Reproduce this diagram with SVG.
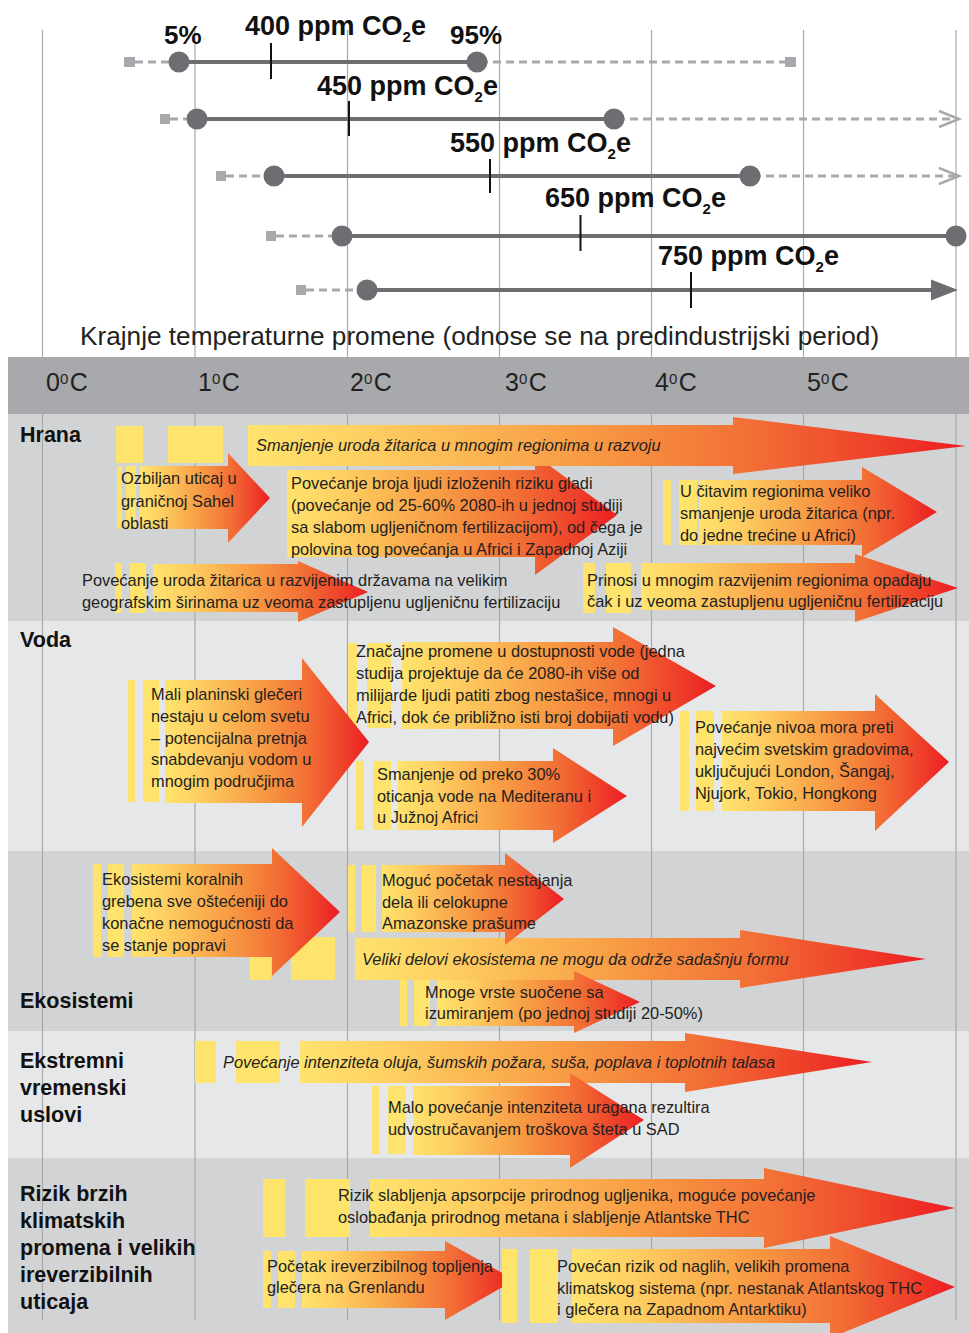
<svg xmlns="http://www.w3.org/2000/svg" width="969" height="1333" viewBox="0 0 969 1333">
<defs>
<linearGradient id="g" x1="0" y1="0" x2="1" y2="0">
<stop offset="0" stop-color="#ffe36d"/>
<stop offset="0.15" stop-color="#fed163"/>
<stop offset="0.45" stop-color="#f89e45"/>
<stop offset="0.7" stop-color="#f26f35"/>
<stop offset="0.9" stop-color="#ee3a28"/>
<stop offset="1" stop-color="#ec1c24"/>
</linearGradient>
</defs>
<style>
text{font-family:"Liberation Sans",Arial,sans-serif}
.t{font-size:16.4px;fill:#231f20}
.it{font-style:italic}
.lab{font-weight:bold;font-size:21.5px;fill:#111}
.bar{fill:#fee36d}
.arr{fill:url(#g)}
.grid{stroke:#a7a9ac;stroke-width:1.2}
.ppm{font-weight:bold;font-size:27px;fill:#111}
.pct{font-weight:bold;font-size:26px;fill:#111}
.deg{font-size:25px;fill:#231f20}
.sol{stroke:#6d6e71;stroke-width:4}
.dash{stroke:#a7a9ac;stroke-width:3;stroke-dasharray:8 5;fill:none}
.dot{fill:#6d6e71}
.sq{fill:#a7a9ac}
.tick{stroke:#111;stroke-width:2}
</style>
<rect width="969" height="1333" fill="#fff"/>
<g id="sections">
<rect x="8" y="414" width="961" height="207" fill="#d1d3d4"/>
<rect x="8" y="621" width="961" height="230" fill="#e6e7e8"/>
<rect x="8" y="851" width="961" height="180" fill="#d1d3d4"/>
<rect x="8" y="1031" width="961" height="127" fill="#e6e7e8"/>
<rect x="8" y="1158" width="961" height="175" fill="#d1d3d4"/>
</g>
<g id="grid">
<line class="grid" x1="42.5" y1="30" x2="42.5" y2="1320"/>
<line class="grid" x1="195" y1="30" x2="195" y2="1320"/>
<line class="grid" x1="347.5" y1="30" x2="347.5" y2="1320"/>
<line class="grid" x1="499.5" y1="30" x2="499.5" y2="1320"/>
<line class="grid" x1="651.5" y1="30" x2="651.5" y2="1320"/>
<line class="grid" x1="803.5" y1="30" x2="803.5" y2="1320"/>
<line class="grid" x1="956" y1="30" x2="956" y2="1320"/>
</g>
<g id="scale">
<rect x="8" y="357" width="961" height="57" fill="#a7a9ac"/>
<text class="deg" x="46" y="391">0<tspan font-size="15" dy="-7">0</tspan><tspan dx="1.5" dy="7">C</tspan></text>
<text class="deg" x="198" y="391">1<tspan font-size="15" dy="-7">0</tspan><tspan dx="1.5" dy="7">C</tspan></text>
<text class="deg" x="350" y="391">2<tspan font-size="15" dy="-7">0</tspan><tspan dx="1.5" dy="7">C</tspan></text>
<text class="deg" x="505" y="391">3<tspan font-size="15" dy="-7">0</tspan><tspan dx="1.5" dy="7">C</tspan></text>
<text class="deg" x="655" y="391">4<tspan font-size="15" dy="-7">0</tspan><tspan dx="1.5" dy="7">C</tspan></text>
<text class="deg" x="807" y="391">5<tspan font-size="15" dy="-7">0</tspan><tspan dx="1.5" dy="7">C</tspan></text>
<text x="80" y="345" font-size="26.2" fill="#231f20">Krajnje temperaturne promene (odnose se na predindustrijski period)</text>
</g>
<g id="ranges">
<g id="r400">
<rect class="sq" x="124" y="57" width="11" height="10"/>
<line class="dash" x1="135" y1="62" x2="172" y2="62"/>
<line class="dash" x1="480" y1="62" x2="786" y2="62"/>
<rect class="sq" x="785" y="57" width="11" height="10"/>
<line class="sol" x1="179" y1="62" x2="477" y2="62"/>
<circle class="dot" cx="179" cy="62" r="10.5"/>
<circle class="dot" cx="477" cy="62" r="10.5"/>
<line class="tick" x1="271" y1="43" x2="271" y2="79"/>
<text class="pct" x="164" y="44">5%</text>
<text class="pct" x="450" y="44">95%</text>
<text class="ppm" x="245" y="35">400 ppm CO<tspan font-size="15" dy="7">2</tspan><tspan dy="-7">e</tspan></text>
</g>
<g id="r450">
<rect class="sq" x="160" y="114" width="10" height="10"/>
<line class="dash" x1="170" y1="119" x2="190" y2="119"/>
<line class="dash" x1="617" y1="119" x2="955" y2="119"/>
<polyline points="939,111 959,119 939,127" fill="none" stroke="#a7a9ac" stroke-width="2.5"/>
<line class="sol" x1="197" y1="119" x2="614" y2="119"/>
<circle class="dot" cx="197" cy="119" r="10.5"/>
<circle class="dot" cx="614" cy="119" r="10.5"/>
<line class="tick" x1="349" y1="101" x2="349" y2="136"/>
<text class="ppm" x="317" y="95">450 ppm CO<tspan font-size="15" dy="7">2</tspan><tspan dy="-7">e</tspan></text>
</g>
<g id="r550">
<rect class="sq" x="216" y="171" width="10" height="10"/>
<line class="dash" x1="226" y1="176" x2="267" y2="176"/>
<line class="dash" x1="753" y1="176" x2="955" y2="176"/>
<polyline points="939,168 959,176 939,184" fill="none" stroke="#a7a9ac" stroke-width="2.5"/>
<line class="sol" x1="274" y1="176" x2="750" y2="176"/>
<circle class="dot" cx="274" cy="176" r="10.5"/>
<circle class="dot" cx="750" cy="176" r="10.5"/>
<line class="tick" x1="490" y1="159" x2="490" y2="193"/>
<text class="ppm" x="450" y="152">550 ppm CO<tspan font-size="15" dy="7">2</tspan><tspan dy="-7">e</tspan></text>
</g>
<g id="r650">
<rect class="sq" x="266" y="231" width="10" height="10"/>
<line class="dash" x1="276" y1="236" x2="335" y2="236"/>
<line class="sol" x1="342" y1="236" x2="956" y2="236"/>
<circle class="dot" cx="342" cy="236" r="10.5"/>
<circle class="dot" cx="956" cy="236" r="10.5"/>
<line class="tick" x1="580.5" y1="215" x2="580.5" y2="251"/>
<text class="ppm" x="545" y="207">650 ppm CO<tspan font-size="15" dy="7">2</tspan><tspan dy="-7">e</tspan></text>
</g>
<g id="r750">
<rect class="sq" x="296" y="285" width="10" height="10"/>
<line class="dash" x1="306" y1="290" x2="360" y2="290"/>
<line class="sol" x1="367" y1="290" x2="935" y2="290"/>
<polygon class="dot" points="931,279.5 958,290 931,300.5"/>
<circle class="dot" cx="367" cy="290" r="10.5"/>
<line class="tick" x1="691" y1="272" x2="691" y2="308"/>
<text class="ppm" x="658" y="265">750 ppm CO<tspan font-size="15" dy="7">2</tspan><tspan dy="-7">e</tspan></text>
</g>
</g>
<g id="labels">
<text class="lab" x="20" y="442">Hrana</text>
<text class="lab" x="20" y="647">Voda</text>
<text class="lab" x="20" y="1008">Ekosistemi</text>
<text class="lab" x="20" y="1068">Ekstremni</text>
<text class="lab" x="20" y="1095">vremenski</text>
<text class="lab" x="20" y="1122">uslovi</text>
<text class="lab" x="20" y="1201">Rizik brzih</text>
<text class="lab" x="20" y="1228">klimatskih</text>
<text class="lab" x="20" y="1255">promena i velikih</text>
<text class="lab" x="20" y="1282">ireverzibilnih</text>
<text class="lab" x="20" y="1309">uticaja</text>
</g>
<g id="connectors"/>
<g id="a3">
<polygon class="arr" points="287,470 535,470 535,455 617,515 535,575 535,557 287,557"/>
<text class="t" x="291" y="489">Povećanje broja ljudi izloženih riziku gladi</text>
<text class="t" x="291" y="511">(povećanje od 25-60% 2080-ih u jednoj studiji</text>
<text class="t" x="291" y="533">sa slabom ugljeničnom fertilizacijom), od čega je</text>
<text class="t" x="291" y="555">polovina tog povećanja u Africi i Zapadnoj Aziji</text>
</g>
<g id="a1">
<rect class="bar" x="116" y="426" width="27" height="37"/>
<rect class="bar" x="168" y="426" width="55" height="37"/>
<polygon class="arr" points="248,425 733,425 733,417 966,446 733,474 733,466 248,466"/>
<text class="t it" x="256" y="451">Smanjenje uroda žitarica u mnogim regionima u razvoju</text>
</g>
<g id="a2">
<rect class="bar" x="117" y="466" width="5" height="63"/>
<rect class="bar" x="126" y="466" width="10" height="63"/>
<polygon class="arr" points="140,466 228,466 228,453 270,498 228,543 228,529 140,529"/>
<text class="t" x="121" y="484">Ozbiljan uticaj u</text>
<text class="t" x="121" y="507">graničnoj Sahel</text>
<text class="t" x="121" y="529">oblasti</text>
</g>
<g id="a4">
<rect class="bar" x="663" y="480" width="8" height="65"/>
<rect class="bar" x="679" y="480" width="18" height="65"/>
<polygon class="arr" points="699,480 862,480 862,467 937,512 862,557 862,545 699,545"/>
<text class="t" x="680" y="497">U čitavim regionima veliko</text>
<text class="t" x="680" y="519">smanjenje uroda žitarica (npr.</text>
<text class="t" x="680" y="541">do jedne trećine u Africi)</text>
</g>
<g id="a5">
<rect class="bar" x="115" y="563" width="7" height="50"/>
<rect class="bar" x="130" y="563" width="16" height="50"/>
<polygon class="arr" points="153,564 298,564 298,561 368,592 298,622 298,612 153,612"/>
<text class="t" x="82" y="586">Povećanje uroda žitarica u razvijenim državama na velikim</text>
<text class="t" x="82" y="608">geografskim širinama uz veoma zastupljenu ugljeničnu fertilizaciju</text>
</g>
<g id="a6">
<rect class="bar" x="583" y="563" width="12" height="50"/>
<rect class="bar" x="606" y="563" width="25" height="50"/>
<polygon class="arr" points="641,563 855,563 855,554 958,588 855,622 855,610 641,610"/>
<text class="t" x="587" y="586">Prinosi u mnogim razvijenim regionima opadaju</text>
<text class="t" x="587" y="607">čak i uz veoma zastupljenu ugljeničnu fertilizaciju</text>
</g>
<g id="a7">
<rect class="bar" x="348" y="643" width="9" height="85"/>
<rect class="bar" x="367" y="643" width="24" height="85"/>
<polygon class="arr" points="402,642 613,642 613,627 716,686 613,746 613,729 402,729"/>
<text class="t" x="356" y="657">Značajne promene u dostupnosti vode (jedna</text>
<text class="t" x="356" y="679">studija projektuje da će 2080-ih više od</text>
<text class="t" x="356" y="701">milijarde ljudi patiti zbog nestašice, mnogi u</text>
<text class="t" x="356" y="723">Africi, dok će približno isti broj dobijati vodu)</text>
</g>
<g id="a8">
<rect class="bar" x="128" y="680" width="7" height="122"/>
<rect class="bar" x="143" y="680" width="16" height="122"/>
<polygon class="arr" points="165,680 302,680 302,658 369,742 302,827 302,803 165,803"/>
<text class="t" x="151" y="700">Mali planinski glečeri</text>
<text class="t" x="151" y="722">nestaju u celom svetu</text>
<text class="t" x="151" y="744">– potencijalna pretnja</text>
<text class="t" x="151" y="765">snabdevanju vodom u</text>
<text class="t" x="151" y="787">mnogim područjima</text>
</g>
<g id="a9">
<rect class="bar" x="356" y="761" width="8" height="69"/>
<rect class="bar" x="373" y="761" width="18" height="69"/>
<polygon class="arr" points="398,761 553,761 553,748 627,796 553,843 553,830 398,830"/>
<text class="t" x="377" y="780">Smanjenje od preko 30%</text>
<text class="t" x="377" y="802">oticanja vode na Mediteranu i</text>
<text class="t" x="377" y="823">u Južnoj Africi</text>
</g>
<g id="a10">
<rect class="bar" x="680" y="711" width="9" height="100"/>
<rect class="bar" x="696" y="711" width="18" height="100"/>
<polygon class="arr" points="722,711 875,711 875,694 949,762 875,831 875,811 722,811"/>
<text class="t" x="695" y="733">Povećanje nivoa mora preti</text>
<text class="t" x="695" y="755">najvećim svetskim gradovima,</text>
<text class="t" x="695" y="777">uključujući London, Šangaj,</text>
<text class="t" x="695" y="799">Njujork, Tokio, Hongkong</text>
</g>
<g id="a13">
<rect class="bar" x="250" y="937" width="21" height="43"/>
<rect class="bar" x="291" y="937" width="44" height="43"/>
<polygon class="arr" points="355,938 740,938 740,930 926,959 740,988 740,980 355,980"/>
<text class="t it" x="362" y="965">Veliki delovi ekosistema ne mogu da održe sadašnju formu</text>
</g>
<g id="a11">
<rect class="bar" x="93" y="864" width="8" height="93"/>
<rect class="bar" x="108" y="864" width="16" height="93"/>
<polygon class="arr" points="132,864 272,864 272,848 340,912 272,976 272,957 132,957"/>
<text class="t" x="102" y="885">Ekosistemi koralnih</text>
<text class="t" x="102" y="907">grebena sve oštećeniji do</text>
<text class="t" x="102" y="929">konačne nemogućnosti da</text>
<text class="t" x="102" y="951">se stanje popravi</text>
</g>
<g id="a12">
<rect class="bar" x="348" y="865" width="7" height="67"/>
<rect class="bar" x="362" y="865" width="14" height="67"/>
<polygon class="arr" points="382,865 505,865 505,853 564,899 505,945 505,932 382,932"/>
<text class="t" x="382" y="886">Moguć početak nestajanja</text>
<text class="t" x="382" y="908">dela ili celokupne</text>
<text class="t" x="382" y="929">Amazonske prašume</text>
</g>
<g id="a14">
<rect class="bar" x="400" y="980" width="7" height="46"/>
<rect class="bar" x="414" y="980" width="16" height="46"/>
<polygon class="arr" points="437,980 574,980 574,971 640,1002 574,1033 574,1026 437,1026"/>
<text class="t" x="425" y="998">Mnoge vrste suočene sa</text>
<text class="t" x="425" y="1019">izumiranjem (po jednoj studiji 20-50%)</text>
</g>
<g id="a15">
<rect class="bar" x="195" y="1041" width="21" height="42"/>
<rect class="bar" x="236" y="1041" width="44" height="42"/>
<polygon class="arr" points="300,1041 685,1041 685,1033 872,1062 685,1092 685,1083 300,1083"/>
<text class="t it" x="223" y="1068">Povećanje intenziteta oluja, šumskih požara, suša, poplava i toplotnih talasa</text>
</g>
<g id="a16">
<rect class="bar" x="372" y="1086" width="7" height="68"/>
<rect class="bar" x="388" y="1086" width="18" height="68"/>
<polygon class="arr" points="413,1086 570,1086 570,1073 644,1120 570,1168 570,1155 413,1155"/>
<text class="t" x="388" y="1113">Malo povećanje intenziteta uragana rezultira</text>
<text class="t" x="388" y="1135">udvostručavanjem troškova šteta u SAD</text>
</g>
<g id="a17">
<rect class="bar" x="263" y="1179" width="22" height="58"/>
<rect class="bar" x="305" y="1179" width="45" height="58"/>
<polygon class="arr" points="370,1179 764,1179 764,1168 955,1208 764,1248 764,1237 370,1237"/>
<text class="t" x="338" y="1201">Rizik slabljenja apsorpcije prirodnog ugljenika, moguće povećanje</text>
<text class="t" x="338" y="1223">oslobađanja prirodnog metana i slabljenje Atlantske THC</text>
</g>
<g id="a18">
<rect class="bar" x="263" y="1251" width="8" height="57"/>
<rect class="bar" x="278" y="1251" width="17" height="57"/>
<polygon class="arr" points="302,1251 445,1251 445,1241 515,1280 445,1320 445,1308 302,1308"/>
<text class="t" x="267" y="1272">Početak ireverzibilnog topljenja</text>
<text class="t" x="267" y="1293">glečera na Grenlandu</text>
</g>
<g id="a19">
<rect class="bar" x="502" y="1249" width="15" height="74"/>
<rect class="bar" x="530" y="1249" width="28" height="74"/>
<polygon class="arr" points="572,1249 830,1249 830,1236 955,1287 830,1338 830,1323 572,1323"/>
<text class="t" x="557" y="1272">Povećan rizik od naglih, velikih promena</text>
<text class="t" x="557" y="1294">klimatskog sistema (npr. nestanak Atlantskog THC</text>
<text class="t" x="557" y="1315">i glečera na Zapadnom Antarktiku)</text>
</g>
</svg>
